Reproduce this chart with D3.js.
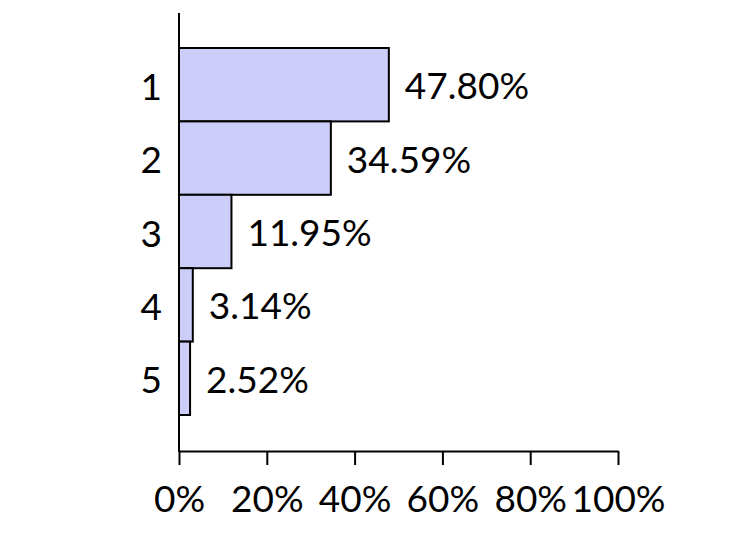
<!DOCTYPE html>
<html>
<head>
<meta charset="utf-8">
<script src="https://cdn.jsdelivr.net/npm/d3@7"></script>
<style>
  body { margin: 0; background: #fff; }
  text { font-family: Lato, "Open Sans", sans-serif; fill: #000; }
</style>
</head>
<body>
<svg id="chart" width="752" height="558"></svg>
<script>
// data
var categories = ["1", "2", "3", "4", "5"];
var shares = [47.80, 34.59, 11.95, 3.14, 2.52];
var tickValues = [0, 20, 40, 60, 80, 100];

var svg = d3.select("#chart");

var x = d3.scaleLinear()
    .domain([0, 100])
    .range([179, 618]);

var y = d3.scaleBand()
    .domain(categories)
    .range([48, 415])
    .padding(0);

var rows = categories.map(function(c, i){ return {cat: c, val: shares[i]}; });

// bars
svg.append("g")
  .selectAll("rect")
  .data(rows)
  .enter()
  .append("rect")
    .attr("x", x(0))
    .attr("y", function(d){ return y(d.cat); })
    .attr("width", function(d){ return x(d.val) - x(0); })
    .attr("height", y.bandwidth())
    .attr("fill", "#cdcdf9")
    .attr("stroke", "#000")
    .attr("stroke-width", 2);

// value labels
svg.append("g")
  .selectAll("text")
  .data(rows)
  .enter()
  .append("text")
    .attr("x", function(d){ return x(d.val) + 16; })
    .attr("y", function(d){ return y(d.cat) + y.bandwidth() / 2 + 14.5; })
    .attr("font-size", 37)
    .text(function(d){ return d.val.toFixed(2) + "%"; });

// category labels
svg.append("g")
  .selectAll("text")
  .data(categories)
  .enter()
  .append("text")
    .attr("x", 162)
    .attr("y", function(d){ return y(d) + y.bandwidth() / 2 + 15; })
    .attr("text-anchor", "end")
    .attr("font-size", 37)
    .text(function(d){ return d; });

// y axis line
svg.append("line")
    .attr("x1", x(0)).attr("x2", x(0))
    .attr("y1", 13).attr("y2", 452)
    .attr("stroke", "#000")
    .attr("stroke-width", 2);

// x axis
var xAxis = d3.axisBottom(x)
    .tickValues(tickValues)
    .tickSize(14)
    .tickSizeOuter(0)
    .tickPadding(18)
    .tickFormat(function(d){ return d + "%"; });

var gx = svg.append("g")
    .attr("transform", "translate(0,451)")
    .call(xAxis);

gx.select(".domain").attr("stroke", "#000").attr("stroke-width", 2);
gx.selectAll(".tick line").attr("stroke", "#000").attr("stroke-width", 2);
gx.selectAll(".tick text")
    .attr("font-size", 37)
    .attr("font-family", "Lato, 'Open Sans', sans-serif")
    .attr("fill", "#000")
    .attr("dy", null)
    .attr("y", 60.5);
</script>
</body>
</html>
